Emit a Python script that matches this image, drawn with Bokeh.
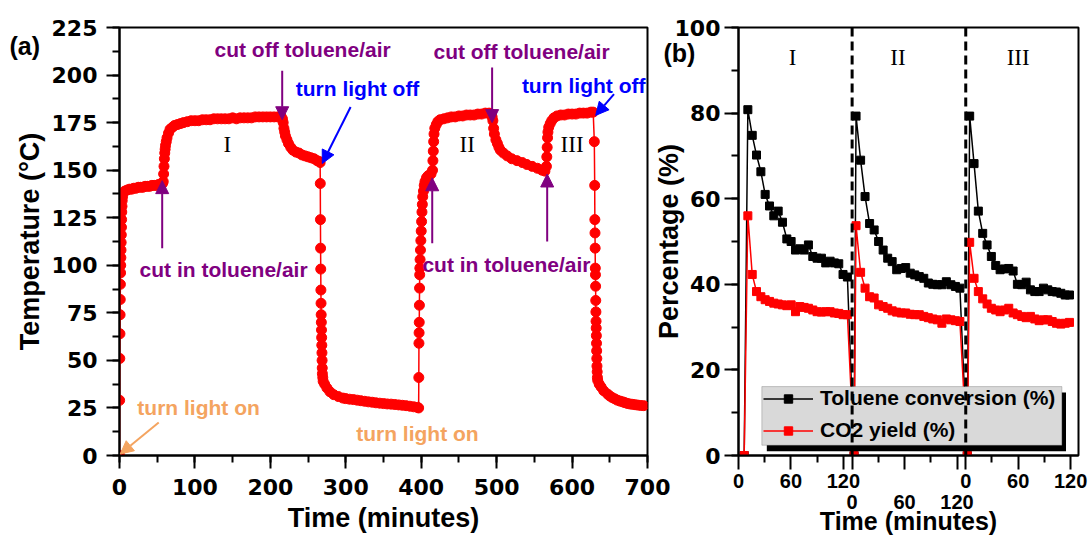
from bokeh.plotting import figure
from bokeh.layouts import row
from bokeh.models import (Range1d, SingleIntervalTicker, FixedTicker, LinearAxis, Label,
                          Arrow, NormalHead, Span, BoxAnnotation, Legend, LegendItem)
from bokeh.embed import file_html
from bokeh.resources import INLINE

# ---------------- Panel (a) data: temperature vs time ----------------
time_a = [0, 0.2, 0.4, 0.6, 0.8, 1.0, 1.2, 1.4, 1.6, 1.8, 2.0, 2.2, 2.4, 2.6, 2.8, 3.0, 3.3, 3.6, 4.0,
          5, 7, 10, 13, 16, 19, 22, 25, 28, 31, 34, 37, 40, 43, 46, 49, 52, 55, 57,
          58, 58.5, 59, 59.5, 60, 60.5, 61, 62, 63, 65, 67, 70, 73, 77, 81, 85, 90, 95, 100, 105,
          110, 115, 120, 125, 130, 135, 140, 145, 150, 155, 160, 165, 170, 175, 180, 185, 190,
          195, 200, 205, 210, 214,
          216, 217, 218, 219, 220, 222, 224, 227, 230, 234, 238, 242, 246, 250, 254, 258, 262, 265,
          266, 266.2, 266.4, 266.6, 266.8, 267, 267.2, 267.4, 267.6, 267.8, 268, 268.2, 268.4,
          268.6, 268.8, 269, 269.5, 270, 272, 275, 279, 284, 290, 296, 300, 305, 310, 315, 320,
          325, 330, 335, 340, 345, 350, 355, 360, 365, 370, 375, 380, 385, 390, 395,
          396.6, 396.8, 397, 397.2, 397.4, 397.6, 397.8, 398, 398.2, 398.5, 399, 399.5, 400,
          400.5, 401, 401.5, 402, 403, 404, 405, 407, 409, 411, 413,
          415, 415.5, 416, 416.5, 417, 418, 420, 422, 425, 430, 435, 440, 445, 450, 455, 460,
          465, 470, 475, 480, 485, 490, 493,
          494, 495, 496, 497, 499, 501, 503, 505, 509, 514, 520, 527, 534, 540, 547, 554, 560, 564,
          566, 566.5, 567, 567.5, 568, 569, 571, 573, 576, 580, 585, 590, 595, 600, 605, 610,
          615, 620, 625, 628,
          629.5, 630, 630.2, 630.4, 630.6, 630.8, 631, 631.2, 631.4, 631.6, 631.8, 632, 632.2,
          632.4, 632.6, 632.8, 633, 633.3, 633.6, 634, 636, 638.5, 642, 647, 650, 653, 656.5,
          660, 663.5, 667, 670, 673, 676.5, 680, 683.5, 687, 691, 695]
temp_a = [0, 29, 51, 64, 74, 82, 90, 96, 100, 104, 108, 112, 116, 120, 124, 128, 131, 134, 136,
          138, 139, 139.5, 140, 140, 140.5, 140.5, 141, 141, 141, 141.5, 141.5, 141.5, 142, 142,
          142, 142.5, 142.5, 143,
          144, 148, 152, 156, 159, 161, 163, 165, 167, 169.5, 171.5, 172.5, 173.5, 174, 174.5,
          175, 175.5, 176, 176, 176, 176.5, 176.5, 176.5, 177, 177, 177, 177, 177, 177.5, 177,
          177.5, 177.5, 177.5, 177.5, 178, 178, 178, 178, 178, 178, 178, 178.5,
          177, 175, 172, 170, 168, 166, 164, 162, 160.5, 159.5, 159, 158, 157.5, 157, 156.5, 156,
          155, 154.5,
          154, 143, 124, 109, 98, 87, 80, 74, 70, 66, 62, 58, 54, 50, 46, 43, 41, 39, 37.5, 35.5,
          33.5, 32, 31, 30.2, 29.9, 29.6, 29.4, 29.1, 28.8, 28.5, 28.2, 28, 27.7, 27.5, 27.3,
          27.1, 27, 26.8, 26.6, 26.4, 26.2, 25.9, 25.6, 25.3,
          25, 41, 59, 64.5, 70, 79, 88, 95, 98.5, 103, 108, 113, 118, 123, 128, 132, 136, 139,
          142, 144, 146, 147, 147.5, 148,
          150, 155, 160, 165, 169, 172, 174, 175.5, 176.5, 177, 177.5, 178, 178, 178.5, 178.5,
          179, 179, 179, 179.5, 179.5, 180, 180, 179.5,
          178, 176, 172, 169, 166, 164, 162, 160.5, 159, 157.5, 156, 155, 154, 153, 152, 151,
          150, 149.5,
          152, 157, 162, 167, 170, 172.5, 174.5, 176, 177.5, 178.5, 179, 179, 179.5, 179.5,
          179.5, 180, 180, 180, 180.5, 180.5,
          165, 142, 124, 117, 109, 98.5, 95, 89, 81.5, 75.5, 70.6, 67, 63, 59, 55, 51, 47, 44,
          41, 39.5, 37.5, 36, 34, 32.3, 31.3, 30.5, 29.8, 29.1, 28.6, 28.2, 27.8, 27.4, 27.1,
          26.9, 26.7, 26.5, 26.3, 26.2]

# ---------------- Panel (b) data ----------------
time_b1 = [6.5, 10.7, 15.7, 20.6, 25.6, 30.5, 35.5, 40.4, 45.4, 50.3, 55.3, 60.2, 65.2, 70.1,
           75.1, 80.0, 85.0, 89.9, 94.9, 99.8, 104.8, 109.7, 114.7, 119.6, 124.6]
time_b2 = [132.2, 134.5, 139.7, 144.8, 150.0, 155.2, 160.3, 165.5, 170.7, 175.8, 181.0, 186.2,
           191.3, 196.5, 201.7, 206.8, 212.0, 217.2, 222.3, 227.5, 232.7, 237.8, 243.0, 248.2,
           253.3]
time_b3 = [261.7, 264.5, 269.5, 274.4, 279.4, 284.4, 289.3, 294.3, 299.3, 304.2, 309.2, 314.2,
           319.1, 324.1, 329.1, 334.0, 339.0, 344.0, 348.9, 353.9, 358.9, 363.8, 368.8, 373.8,
           378.7]
conv_1 = [0, 80.8, 74.8, 70.2, 66.3, 61.0, 58.3, 56.0, 57.1, 54.5, 50.6, 50.0, 48.0, 48.3, 48.0,
          49.2, 46.5, 46.1, 46.1, 45.0, 45.4, 45.0, 44.8, 42.3, 41.7]
conv_2 = [0, 79.3, 69.0, 60.5, 54.2, 52.7, 50.0, 48.0, 46.1, 45.3, 43.4, 43.7, 43.9, 42.6, 42.2,
          41.8, 41.4, 40.3, 40.0, 39.9, 39.9, 40.6, 39.9, 39.5, 39.1]
conv_3 = [0, 79.3, 68.2, 57.1, 51.9, 49.2, 46.5, 44.4, 43.4, 43.6, 43.7, 43.1, 40.0, 39.9, 40.5,
          38.7, 38.3, 38.3, 39.1, 38.7, 38.3, 38.2, 37.9, 37.5, 37.5]
co2_1 = [0, 56.0, 42.3, 38.3, 37.1, 36.4, 36.0, 35.6, 35.4, 35.2, 35.0, 35.2, 33.6, 34.8, 34.6,
         34.4, 34.0, 33.6, 33.5, 33.6, 33.6, 33.3, 33.2, 32.9, 32.9]
co2_2 = [0, 53.7, 42.8, 39.1, 37.1, 36.8, 35.2, 34.8, 34.4, 33.8, 33.5, 33.3, 33.3, 33.0, 32.9,
         32.9, 32.5, 32.2, 31.9, 31.7, 30.9, 31.9, 31.7, 31.5, 31.3]
co2_3 = [0, 49.8, 41.4, 38.3, 36.6, 35.4, 34.4, 34.0, 33.6, 34.0, 34.4, 33.3, 32.9, 32.5, 32.2,
         32.5, 31.9, 31.5, 31.7, 31.7, 31.3, 30.9, 30.7, 30.9, 31.1]
seg_boundaries = [130, 260]
b_major_ticks = [0, 60, 120, 130, 190, 250, 260, 320, 380]
b_minor_ticks = [30, 90, 160, 220, 290, 350]
b_row1_labels = {0: "0", 60: "60", 120: "120", 130: "", 190: "", 250: "",
                 260: "0", 320: "60", 380: "120"}
b_row2_ticks = [130, 190, 250]
b_row2_labels = {130: "0", 190: "60", 250: "120"}
series_names = ["Toluene conversion (%)", "CO2 yield (%)"]

PURPLE = "#800080"
BLUE = "#0000ff"
ORANGE = "#f4a460"
TICK_FONT = "DejaVu Sans"
TEXT_FONT = "Liberation Sans"


def style_axis(ax, tick_out=13, standoff=10, font=TICK_FONT, size="22px", title_size="27px"):
    ax.axis_line_width = 2
    ax.axis_line_color = "black"
    ax.major_tick_line_width = 2
    ax.minor_tick_line_width = 2
    ax.major_tick_out = tick_out
    ax.major_tick_in = 0
    ax.minor_tick_out = 7
    ax.minor_tick_in = 0
    ax.major_label_standoff = standoff
    ax.major_label_text_font = font
    ax.major_label_text_font_style = "bold"
    ax.major_label_text_font_size = size
    ax.major_label_text_color = "black"
    ax.axis_label_text_font = TEXT_FONT
    ax.axis_label_text_font_style = "bold"
    ax.axis_label_text_font_size = title_size
    ax.axis_label_text_color = "black"


def txt(p, text, x, y, color="black", size="21px", font=TEXT_FONT, style="bold"):
    p.add_layout(Label(x=x, y=y, text=text, text_color=color, text_font=font,
                       text_font_style=style, text_font_size=size,
                       text_align="center", text_baseline="middle"))


def arrow(p, x0, y0, x1, y1, color):
    p.add_layout(Arrow(end=NormalHead(size=13, fill_color=color, line_color=color),
                       x_start=x0, y_start=y0, x_end=x1, y_end=y1,
                       line_color=color, line_width=2))


def panel_tag(p, text, offset, standoff):
    t = p.title
    t.text = text
    t.align = "left"
    t.offset = offset
    t.standoff = standoff
    t.text_font = TEXT_FONT
    t.text_font_style = "bold"
    t.text_font_size = "25px"
    t.text_color = "black"


# ================= Panel (a) =================
p_a = figure(width=680, height=537, output_backend="svg", toolbar_location=None,
             x_range=Range1d(0, 700), y_range=Range1d(0, 225),
             min_border_left=119, min_border_right=33, min_border_top=25, min_border_bottom=82,
             x_axis_label="Time (minutes)", y_axis_label="Temperature (\u00b0C)")
p_a.xgrid.visible = False
p_a.ygrid.visible = False
p_a.outline_line_color = "black"
p_a.outline_line_width = 2
p_a.outline_line_alpha = 1
p_a.xaxis.ticker = SingleIntervalTicker(interval=100, num_minor_ticks=2)
p_a.yaxis.ticker = SingleIntervalTicker(interval=25, num_minor_ticks=2)
style_axis(p_a.xaxis[0], tick_out=13, standoff=10)
style_axis(p_a.yaxis[0], tick_out=13, standoff=9)
p_a.xaxis.axis_label_standoff = 5
p_a.yaxis.axis_label_standoff = 4
panel_tag(p_a, "(a)", -110, -64)

p_a.line(time_a, temp_a, line_color="red", line_width=1.5)
p_a.scatter(time_a, temp_a, marker="circle", size=10, fill_color="red", line_color="red")

txt(p_a, "cut off toluene/air", 242.7, 213.5, PURPLE)
txt(p_a, "cut off toluene/air", 533, 212.5, PURPLE)
txt(p_a, "turn light off", 315.6, 192.7, BLUE)
txt(p_a, "turn light off", 615.4, 194.5, BLUE)
txt(p_a, "cut in toluene/air", 138, 97.9, PURPLE)
txt(p_a, "cut in toluene/air", 513, 100.5, PURPLE)
txt(p_a, "turn light on", 104.8, 25.3, ORANGE)
txt(p_a, "turn light on", 395, 11.7, ORANGE)
for rn, xx in [("I", 143), ("II", 461), ("III", 600)]:
    txt(p_a, rn, xx, 163.3, font="Liberation Serif", style="normal", size="23px")

arrow(p_a, 56.6, 109, 56.6, 144.5, PURPLE)
arrow(p_a, 414.6, 111.6, 414.6, 146, PURPLE)
arrow(p_a, 567, 112.5, 567, 148, PURPLE)
arrow(p_a, 215.7, 202.3, 215.7, 176.5, PURPLE)
arrow(p_a, 494, 204, 494, 175, PURPLE)
arrow(p_a, 306.4, 183.2, 268.8, 153.5, BLUE)
arrow(p_a, 655.6, 190, 631.3, 178.8, BLUE)
arrow(p_a, 52, 17.4, 1, 0.8, ORANGE)

# ================= Panel (b) =================
p_b = figure(width=439, height=537, output_backend="svg", toolbar_location=None,
             x_range=Range1d(0, 389), y_range=Range1d(0, 100),
             min_border_left=88, min_border_right=11, min_border_top=27, min_border_bottom=81,
             y_axis_label="Percentage (%)")
p_b.margin = (0, 0, 0, -30)
p_b.border_fill_color = None
p_b.xgrid.visible = False
p_b.ygrid.visible = False
p_b.outline_line_color = "black"
p_b.outline_line_width = 2
p_b.outline_line_alpha = 1
p_b.yaxis.ticker = SingleIntervalTicker(interval=20, num_minor_ticks=2)
style_axis(p_b.yaxis[0], tick_out=14, standoff=4)
p_b.yaxis.axis_label_standoff = -12
panel_tag(p_b, "(b)", -75, -78)
xa1 = p_b.xaxis[0]
xa1.ticker = FixedTicker(ticks=b_major_ticks, minor_ticks=b_minor_ticks)
xa1.major_label_overrides = b_row1_labels
style_axis(xa1, tick_out=14, standoff=4, font=TEXT_FONT, size="20px")

xa2 = LinearAxis(ticker=FixedTicker(ticks=b_row2_ticks), major_label_overrides=b_row2_labels,
                 axis_label="Time (minutes)")
style_axis(xa2, tick_out=0, standoff=4, font=TEXT_FONT, size="20px", title_size="25px")
xa2.axis_line_color = None
xa2.major_tick_line_color = None
xa2.minor_tick_line_color = None
xa2.axis_label_standoff = -5
p_b.add_layout(xa2, "below")

time_b = time_b1 + time_b2 + time_b3
conv_b = conv_1 + conv_2 + conv_3
co2_b = co2_1 + co2_2 + co2_3
bl = p_b.line(time_b, conv_b, line_color="black", line_width=1.5)
bs = p_b.scatter(time_b, conv_b, marker="square", size=8, fill_color="black", line_color="black")
rl = p_b.line(time_b, co2_b, line_color="red", line_width=1.5)
rs = p_b.scatter(time_b, co2_b, marker="square", size=8, fill_color="red", line_color="red")

for rn, xx in [("I", 62), ("II", 182.5), ("III", 320)]:
    txt(p_b, rn, xx, 93, font="Liberation Serif", style="normal", size="23px")

p_b.add_layout(BoxAnnotation(left=32.4, right=374.7, bottom=1.0, top=14.7,
                             fill_color="black", fill_alpha=1, line_color=None))
p_b.add_layout(BoxAnnotation(left=26.7, right=370, bottom=2.4, top=16.1,
                             fill_color="#d9d9d9", fill_alpha=1, line_color="#555555",
                             line_width=1))
legend = Legend(items=[LegendItem(label=series_names[0], renderers=[bl, bs]),
                       LegendItem(label=series_names[1], renderers=[rl, rs])],
                location=(25, 13), padding=0, margin=0, spacing=8,
                glyph_width=50, glyph_height=21, label_height=21, label_standoff=7,
                background_fill_alpha=0, border_line_alpha=0,
                label_text_font=TEXT_FONT, label_text_font_style="bold",
                label_text_font_size="21px", label_text_color="black")
p_b.add_layout(legend)

for loc in seg_boundaries:
    p_b.add_layout(Span(location=loc, dimension="height", line_color="black",
                        line_width=3, line_dash="9 5", level="overlay"))

layout = row(p_a, p_b)
open("out.html", "w").write(file_html(layout, INLINE))
